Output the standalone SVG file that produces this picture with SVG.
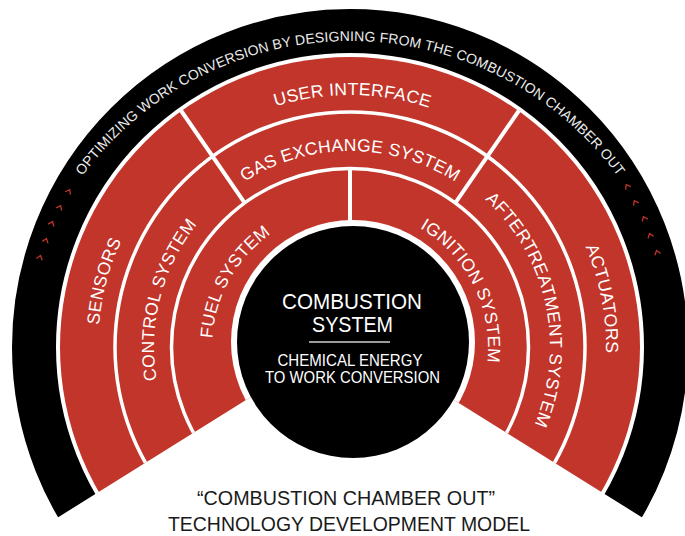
<svg xmlns="http://www.w3.org/2000/svg" width="685" height="536" viewBox="0 0 685 536">
<style>
.lbl{font-family:"Liberation Sans",Arial,sans-serif;font-size:17.5px;fill:#fff;letter-spacing:0.3px}
.arc{font-family:"Liberation Sans",Arial,sans-serif;font-size:14px;fill:#ececec;letter-spacing:0.1px}
.ctr{font-family:"Liberation Sans",Arial,sans-serif;fill:#fff;text-anchor:middle}
.cap{font-family:"Liberation Sans",Arial,sans-serif;fill:#1a1a1a;text-anchor:middle;font-size:21px}
.div{stroke:#fff;fill:none}
.chev{fill:none;stroke:#c1352b;stroke-width:1.3}
</style>
<defs>
<clipPath id="wedge"><polygon points="350,335 -50,584.8 -50,-20 750,-20 750,584.8"/></clipPath>
<path id="pA" d="M77.22,565 A333,333 0 1 1 622.78,565"/>
<path id="p1" d="M143.57,491.54 A252,252 0 1 1 556.43,491.54"/>
<path id="p1b" d="M140.30,493.84 A256,256 0 1 1 559.70,493.84"/>
<path id="p2" d="M189.45,459.42 A196,196 0 1 1 510.55,459.42"/>
<path id="p2b" d="M186.17,461.72 A200,200 0 1 1 513.83,461.72"/>
<path id="p3" d="M236.96,426.15 A138,138 0 1 1 463.04,426.15"/>
</defs>

<g id="outer-band" clip-path="url(#wedge)">
<circle cx="350" cy="347" r="316" fill="none" stroke="#000" stroke-width="44"/>
</g>

<g id="rings" clip-path="url(#wedge)">
<circle cx="350" cy="347" r="290" fill="#c1352b"/>
<circle class="div" cx="350" cy="347" r="235" stroke-width="3.5"/>
<circle class="div" cx="350" cy="347" r="178.5" stroke-width="3.5"/>
<line class="div" x1="180.3" y1="109.5" x2="244.3" y2="202.3" stroke-width="4"/>
<line class="div" x1="519.7" y1="109.5" x2="455.7" y2="202.3" stroke-width="4"/>
<line class="div" x1="350" y1="168" x2="350" y2="224" stroke-width="4"/>
<circle cx="353" cy="342" r="122" fill="#fff"/>
</g>

<g id="tagline">
<text class="arc" text-anchor="middle"><textPath href="#pA" startOffset="726.5">OPTIMIZING WORK CONVERSION BY DESIGNING FROM THE COMBUSTION CHAMBER OUT</textPath></text>
<path class="chev" d="M-3,2.5 L0,-1.5 L3,2.5" transform="translate(69,191) rotate(29)"/>
<path class="chev" d="M-3,2.5 L0,-1.5 L3,2.5" transform="translate(60,207) rotate(26)"/>
<path class="chev" d="M-3,2.5 L0,-1.5 L3,2.5" transform="translate(52,223) rotate(23)"/>
<path class="chev" d="M-3,2.5 L0,-1.5 L3,2.5" transform="translate(46,240) rotate(19)"/>
<path class="chev" d="M-3,2.5 L0,-1.5 L3,2.5" transform="translate(40,257) rotate(16)"/>
<path class="chev" d="M-3,2.5 L0,-1.5 L3,2.5" transform="translate(627,186) rotate(-30)"/>
<path class="chev" d="M-3,2.5 L0,-1.5 L3,2.5" transform="translate(635,202) rotate(-27)"/>
<path class="chev" d="M-3,2.5 L0,-1.5 L3,2.5" transform="translate(644,218) rotate(-24)"/>
<path class="chev" d="M-3,2.5 L0,-1.5 L3,2.5" transform="translate(650,235) rotate(-20)"/>
<path class="chev" d="M-3,2.5 L0,-1.5 L3,2.5" transform="translate(657,252) rotate(-17)"/>
</g>

<g id="user-interface"><text class="lbl" text-anchor="middle"><textPath href="#p1" startOffset="552">USER INTERFACE</textPath></text></g>
<g id="sensors"><text class="lbl" text-anchor="middle"><textPath href="#p1" startOffset="219.9">SENSORS</textPath></text></g>
<g id="actuators"><text class="lbl" text-anchor="middle"><textPath href="#p1b" startOffset="911.9">ACTUATORS</textPath></text></g>
<g id="gas-exchange-system"><text class="lbl" text-anchor="middle"><textPath href="#p2" startOffset="427.6">GAS EXCHANGE SYSTEM</textPath></text></g>
<g id="control-system"><text class="lbl" text-anchor="middle"><textPath href="#p2" startOffset="169.3">CONTROL SYSTEM</textPath></text></g>
<g id="aftertreatment-system"><text class="lbl" text-anchor="middle"><textPath href="#p2b" startOffset="707.2">AFTERTREATMENT SYSTEM</textPath></text></g>
<g id="fuel-system"><text class="lbl" text-anchor="middle"><textPath href="#p3" startOffset="154.9">FUEL SYSTEM</textPath></text></g>
<g id="ignition-system"><text class="lbl" text-anchor="middle"><textPath href="#p3" startOffset="453.5">IGNITION SYSTEM</textPath></text></g>

<g id="combustion-system">
<circle cx="353" cy="342" r="116" fill="#000"/>
<text class="ctr" x="352" y="309" font-size="22" textLength="140" lengthAdjust="spacingAndGlyphs">COMBUSTION</text>
<text class="ctr" x="352.5" y="332" font-size="22" textLength="81" lengthAdjust="spacingAndGlyphs">SYSTEM</text>
<line x1="309" y1="342" x2="390" y2="342" stroke="#cfcfcf" stroke-width="1.5"/>
<text class="ctr" x="350" y="366" font-size="16.5" textLength="145" lengthAdjust="spacingAndGlyphs">CHEMICAL ENERGY</text>
<text class="ctr" x="352.5" y="383" font-size="16.5" textLength="175" lengthAdjust="spacingAndGlyphs">TO WORK CONVERSION</text>
</g>

<g id="caption">
<text class="cap" x="346" y="505" textLength="298" lengthAdjust="spacingAndGlyphs">&#8220;COMBUSTION CHAMBER OUT&#8221;</text>
<text class="cap" x="349" y="531" textLength="362" lengthAdjust="spacingAndGlyphs">TECHNOLOGY DEVELOPMENT MODEL</text>
</g>

<g id="connectors"/>
</svg>
